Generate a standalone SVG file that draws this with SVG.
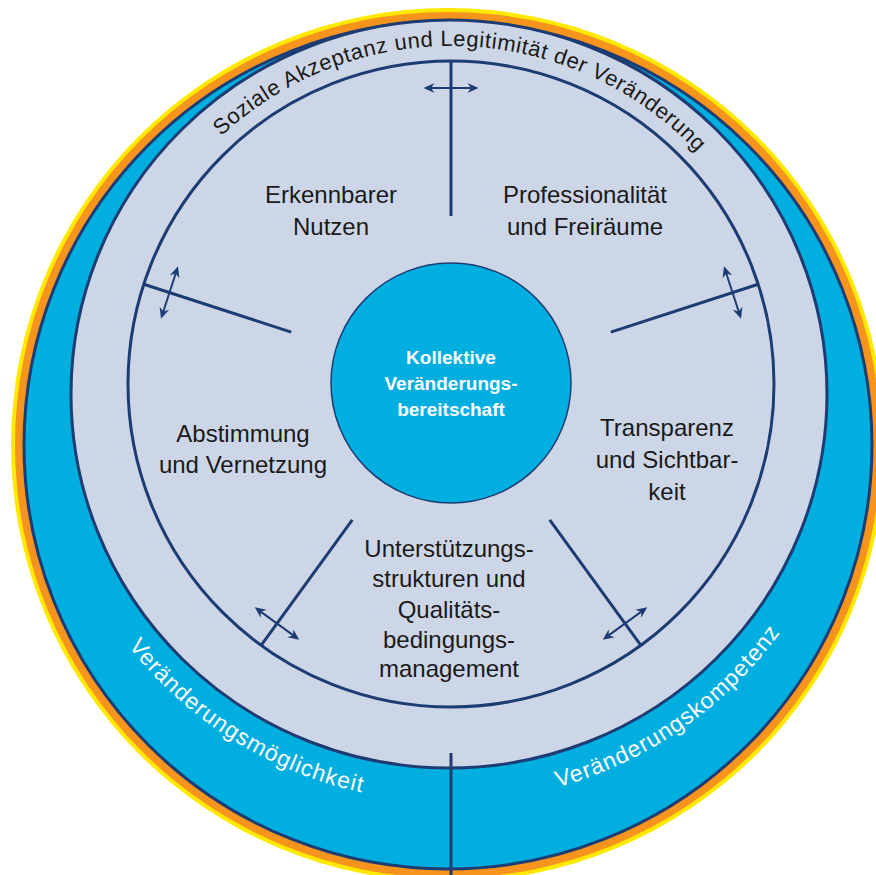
<svg xmlns="http://www.w3.org/2000/svg" xmlns:xlink="http://www.w3.org/1999/xlink" width="876" height="875" viewBox="0 0 876 875">
<style>
.lbl{font-family:"Liberation Sans",Arial,sans-serif;font-size:24px;fill:#1a1a1a;text-anchor:middle}
.ctr{font-family:"Liberation Sans",Arial,sans-serif;font-size:19px;font-weight:bold;fill:#ffffff;text-anchor:middle}
.arc{font-family:"Liberation Sans",Arial,sans-serif;font-size:22px;fill:#1a1a1a;letter-spacing:0.6px}
.band{font-family:"Liberation Sans",Arial,sans-serif;font-size:23px;fill:#ffffff;letter-spacing:1px}
.spoke{stroke:#1d3c73;stroke-width:3;fill:none}
.arr{stroke:#1d3c73;stroke-width:2;fill:none;marker-start:url(#ah);marker-end:url(#ah)}
</style>
<defs>
<marker id="ah" viewBox="-12 -6 13 12" markerWidth="13" markerHeight="12" refX="-3" refY="0" orient="auto-start-reverse" markerUnits="userSpaceOnUse">
<path d="M0,0 L-11,-5 L-7.5,0 L-11,5 Z" fill="#1d3c73"/>
</marker>
<path id="topArc" d="M113,384 A338,338 0 0 1 789,384"/>
<path id="botArc" d="M41,394 A408,408 0 0 0 857,394"/>
</defs>

<g id="outer-ring">
<circle cx="448" cy="445" r="437" fill="#ffe900"/>
<circle cx="448" cy="445" r="433" fill="#f7941d"/>
<circle cx="448" cy="445" r="424" fill="#00aee0" stroke="#1d3c73" stroke-width="3"/>
</g>

<g id="acceptance-ring">
<ellipse cx="449" cy="394" rx="378" ry="374" fill="#cdd6e6" stroke="#1d3c73" stroke-width="3"/>
<text class="arc"><textPath href="#topArc" startOffset="51.1%" text-anchor="middle">Soziale Akzeptanz und Legitimität der Veränderung</textPath></text>
</g>

<g id="inner-ring">
<circle cx="451" cy="384" r="323" fill="none" stroke="#1d3c73" stroke-width="3"/>
</g>

<g id="connectors">
<line class="spoke" x1="451" y1="216" x2="451" y2="61"/>
<line class="spoke" x1="610.8" y1="332.1" x2="758.2" y2="284.2"/>
<line class="spoke" x1="549.7" y1="519.9" x2="640.9" y2="645.3"/>
<line class="spoke" x1="352.3" y1="519.9" x2="261.1" y2="645.3"/>
<line class="spoke" x1="291.2" y1="332.1" x2="143.8" y2="284.2"/>
<line class="spoke" x1="451" y1="753" x2="451" y2="876"/>
<line class="arr" x1="426.5" y1="88" x2="475.5" y2="88"/>
<line class="arr" x1="740.07" y1="315.8" x2="724.93" y2="269.2"/>
<line class="arr" x1="605.18" y1="637.9" x2="644.82" y2="609.1"/>
<line class="arr" x1="257.18" y1="609.1" x2="296.82" y2="637.9"/>
<line class="arr" x1="177.07" y1="269.2" x2="161.93" y2="315.8"/>
</g>

<g id="center">
<circle cx="451" cy="383" r="120" fill="#00aee0" stroke="#1d3c73" stroke-width="1.5"/>
<text class="ctr" x="451" y="364">Kollektive</text>
<text class="ctr" x="451" y="390">Veränderungs-</text>
<text class="ctr" x="451" y="416">bereitschaft</text>
</g>

<g id="nutzen">
<text class="lbl" x="331" y="203">Erkennbarer</text>
<text class="lbl" x="331" y="235">Nutzen</text>
</g>
<g id="professionalitaet">
<text class="lbl" x="585" y="203">Professionalität</text>
<text class="lbl" x="585" y="235">und Freiräume</text>
</g>
<g id="transparenz">
<text class="lbl" x="667" y="436">Transparenz</text>
<text class="lbl" x="667" y="468">und Sichtbar-</text>
<text class="lbl" x="667" y="500">keit</text>
</g>
<g id="unterstuetzung">
<text class="lbl" x="449" y="557">Unterstützungs-</text>
<text class="lbl" x="449" y="587">strukturen und</text>
<text class="lbl" x="449" y="618">Qualitäts-</text>
<text class="lbl" x="449" y="648">bedingungs-</text>
<text class="lbl" x="449" y="677">management</text>
</g>
<g id="abstimmung">
<text class="lbl" x="243" y="442">Abstimmung</text>
<text class="lbl" x="243" y="473">und Vernetzung</text>
</g>

<g id="band-labels">
<text class="band"><textPath href="#botArc" startOffset="32.2%" text-anchor="middle">Veränderungsmöglichkeit</textPath></text>
<text class="band"><textPath href="#botArc" startOffset="69.4%" text-anchor="middle">Veränderungskompetenz</textPath></text>
</g>
</svg>
